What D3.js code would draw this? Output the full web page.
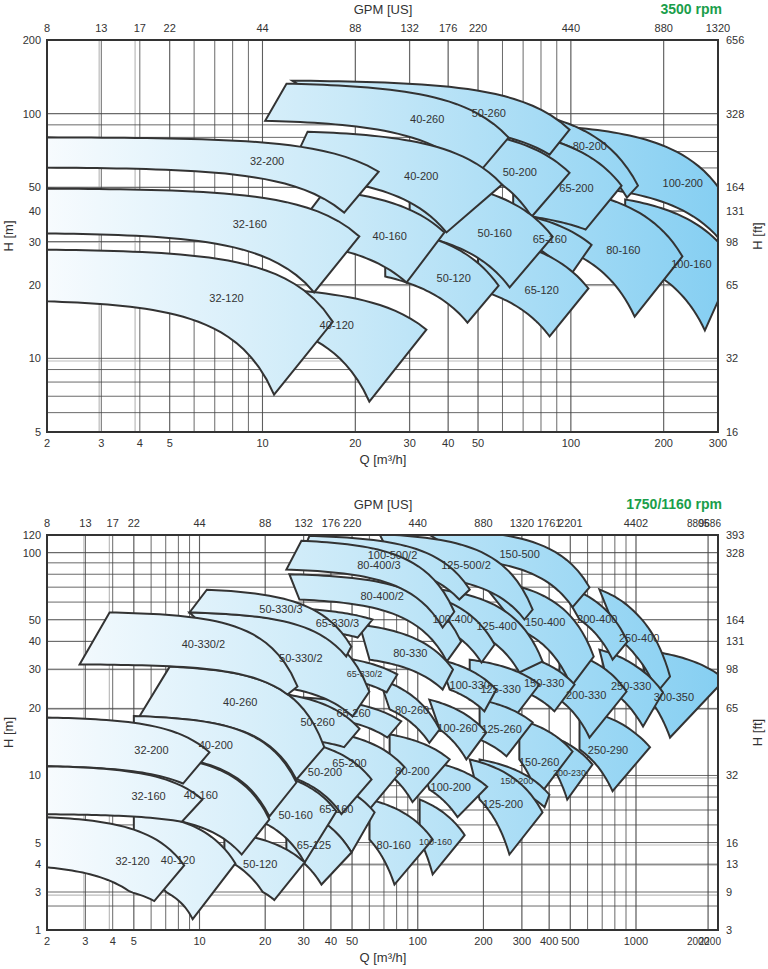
<!DOCTYPE html>
<html>
<head>
<meta charset="utf-8">
<script src="https://cdn.jsdelivr.net/npm/d3@7"></script>
<style>
  body { margin: 0; background: #fff; }
  text { font-family: "Liberation Sans", Arial, sans-serif; fill: #333; }
</style>
</head>
<body>
<svg id="chart" width="768" height="969"></svg>
<script>
// ---- 3500 rpm panel ----
var topQTicks = [2, 3, 4, 5, 10, 20, 30, 40, 50, 100, 200, 300];
var topGpmTicks = [8, 13, 17, 22, 44, 88, 132, 176, 220, 440, 880, 1320];
var topHTicks = [5, 10, 20, 30, 40, 50, 100, 200];
var topFtTicks = [16, 32, 65, 98, 131, 164, 328, 656];
// name, Q/H of top-left, top-right, bottom-left, bottom-right corners
var topPumps = [
  ["32-200", 2, 80, 23.8, 57.9, 2, 60.2, 18.4, 39.4],
  ["32-160", 2, 49.4, 20.6, 31.5, 2, 32.4, 14.7, 18.6],
  ["32-120", 2, 27.8, 16.9, 14.1, 2, 17.1, 10.9, 7.1],
  ["40-120", 6, 19.7, 34, 13.1, 6, 15.3, 22.2, 6.66],
  ["40-160", 16, 48.7, 38.9, 32.7, 12, 30.1, 29.3, 20.4],
  ["40-200", 14, 84.4, 59.8, 51.3, 12, 55.7, 39.5, 32.7],
  ["40-260", 11.96, 132.6, 62.8, 79.8, 10.2, 93.6, 49.1, 55.3],
  ["50-260", 12.5, 136.4, 99, 86, 20, 92.4, 85.3, 68],
  ["50-200", 40, 86.7, 99, 57.3, 40, 64.6, 74.6, 37.9],
  ["50-160", 30, 54.2, 87.3, 31.4, 30, 32.3, 63.3, 19.5],
  ["50-120", 25, 34.3, 58.3, 19.8, 25, 21.6, 46.2, 14.0],
  ["65-200", 65, 84.2, 146, 50.8, 65, 38.8, 111.6, 33.6],
  ["65-160", 50, 41.3, 116.7, 29.1, 50, 34.5, 99, 21.6],
  ["65-120", 50, 31.7, 114, 19.3, 50, 19.1, 85.3, 12.3],
  ["80-200", 50, 107.3, 165, 50.8, 60, 86.3, 152, 45.4],
  ["80-160", 80, 50.6, 230, 26.1, 80, 30.0, 161, 14.8],
  ["100-200", 100, 88, 330, 41.4, 100, 50.8, 330, 26.6],
  ["100-160", 150, 44.6, 340, 24.4, 150, 25.2, 272, 13.0]
];

// ---- 1750/1160 rpm panel ----
var botQTicks = [2, 3, 4, 5, 10, 20, 30, 40, 50, 100, 200, 300, 400, 500, 1000, 2000, 2200];
var botGpmTicks = [8, 13, 17, 22, 44, 88, 132, 176, 220, 440, 880, 1320, 1761, 2201, 4402, 8805, 9686];
var botHTicks = [1, 3, 4, 5, 10, 20, 30, 40, 50, 100, 120];
var botFtTicks = [3, 9, 13, 16, 32, 65, 98, 131, 164, 328, 393];
var botPumps = [
  ["32-200", 2, 18.2, 11.1, 12.7, 2, 11.0, 8.4, 9.2],
  ["32-160", 2, 11.0, 10.3, 7.8, 2, 6.7, 8.3, 6.2],
  ["32-120", 2, 6.5, 8.5, 3.95, 2, 3.87, 6.2, 2.31],
  ["40-120", 5, 6.86, 14.6, 4.03, 5, 4.05, 9.3, 1.37],
  ["40-160", 5, 12.5, 20.9, 6.35, 5, 6.65, 15.6, 4.42],
  ["40-200", 5, 18.5, 27.8, 9.3, 5, 12.6, 20.9, 6.55],
  ["40-260", 7.3, 30.8, 37.3, 13.4, 5.3, 18.4, 27.8, 9.6],
  ["40-330/2", 3.87, 53.9, 28.1, 25.1, 2.82, 31.5, 25.3, 23.1],
  ["50-330/3", 10.8, 68.2, 49.6, 37.9, 9.0, 53.9, 47.0, 34.2],
  ["50-330/2", 9.0, 53.9, 60, 23.8, 20, 25.5, 50.2, 18.4],
  ["50-260", 20, 23.8, 54.1, 16.2, 25, 14.8, 46, 13.4],
  ["50-200", 25, 14.6, 61.4, 9.6, 25, 10.0, 44.7, 6.7],
  ["50-160", 20, 10.4, 42.4, 6.9, 20, 6.1, 30.3, 4.07],
  ["50-120", 13, 5.57, 30.3, 4.07, 13, 4.24, 22.0, 2.38],
  ["65-125", 25, 7.3, 49.7, 4.51, 25, 4.6, 36.2, 3.24],
  ["65-160", 30, 9.95, 63.4, 6.83, 30, 6.85, 49.7, 4.51],
  ["65-200", 30, 16.2, 86.9, 10.9, 30, 10.3, 60, 7.04],
  ["65-260", 30, 22.4, 84.0, 17.5, 30, 18.7, 72.6, 14.8],
  ["65-330/2", 40, 34.3, 80.6, 28.4, 40, 27.9, 72.0, 23.6],
  ["65-330/3", 30, 56, 62, 50.1, 30, 45.4, 53, 41.6],
  ["80-400/3", 29.3, 113, 147, 54.3, 25.0, 84, 130, 46.1],
  ["80-400/2", 25.8, 80, 158, 39.9, 28.7, 61.6, 136, 32.5],
  ["80-330", 54.1, 47.5, 145, 29.9, 60.1, 33.1, 130, 24.3],
  ["80-260", 66.8, 27.0, 126, 16.1, 74.3, 19.8, 113, 14.0],
  ["80-200", 74.3, 15.3, 140, 11.8, 74.3, 10.1, 94.6, 7.6],
  ["80-160", 60.1, 7.8, 117, 5.16, 60.1, 5.16, 78.2, 3.24],
  ["100-500/2", 31.9, 119, 173, 68.3, 28.7, 93.1, 155, 61.6],
  ["100-400", 82.6, 68.3, 225, 38.7, 102, 50.1, 196, 32.1],
  ["100-330", 126, 33.1, 229, 24.3, 140, 24.3, 202, 19.4],
  ["100-260", 113, 21.9, 206, 15.6, 126, 16.1, 167, 11.8],
  ["100-200", 102, 11.8, 208, 8.9, 113, 8.65, 152, 6.5],
  ["100-160", 102, 7.8, 164, 5.4, 102, 5.16, 117, 3.6],
  ["125-500/2", 66.8, 121, 336, 55.5, 82.6, 80, 308, 50.1],
  ["125-400", 126, 68.3, 373, 32.5, 173, 45.2, 292, 29.0],
  ["125-330", 173, 33.1, 361, 25.6, 173, 21.9, 272, 17.8],
  ["125-260", 192, 21.9, 336, 17.3, 192, 14.5, 255, 12.2],
  ["125-200", 173, 11.8, 373, 6.83, 192, 7.8, 263, 4.42],
  ["150-500", 102, 128, 612, 69.9, 173, 93.1, 512, 56.9],
  ["150-400", 192, 75.7, 640, 34.2, 292, 45.2, 505, 25.1],
  ["150-330", 292, 34.9, 523, 25.6, 292, 24.3, 423, 19.4],
  ["150-260", 292, 17.8, 512, 12.8, 292, 11.8, 356, 8.0],
  ["150-200", 192, 11.8, 401, 8.2, 192, 9.6, 381, 7.2],
  ["200-400", 446, 71.9, 914, 39.9, 551, 50.1, 781, 33.1],
  ["200-330", 446, 36.7, 905, 23.8, 446, 21.9, 612, 14.8],
  ["200-230", 446, 14.5, 632, 11.2, 423, 10.6, 484, 7.8],
  ["250-400", 680, 68.3, 1387, 27.8, 840, 40.8, 1224, 23.6],
  ["250-330", 680, 36.7, 1296, 23.6, 756, 24.3, 1070, 16.6],
  ["250-290", 551, 19.8, 1144, 13.4, 551, 13.1, 781, 8.5],
  ["300-350", 1039, 36.7, 2352, 27.0, 1144, 21.9, 1387, 14.8]
];
var smallLabels = ["65-330/2", "200-230", "100-160", "150-200"];

var svg = d3.select("#chart");
var defs = svg.append("defs");
var grad = defs.append("linearGradient").attr("id", "fillGrad")
  .attr("gradientUnits", "userSpaceOnUse")
  .attr("x1", 47).attr("y1", 0).attr("x2", 718).attr("y2", 0);
grad.append("stop").attr("offset", 0).attr("stop-color", "#f7fbfe");
grad.append("stop").attr("offset", 0.45).attr("stop-color", "#c9e9f8");
grad.append("stop").attr("offset", 1).attr("stop-color", "#86cff2");

function multiples(lo, hi) {
  var out = [];
  for (var e = -1; e < 5; e++) {
    for (var m = 1; m < 10; m++) {
      var v = m * Math.pow(10, e);
      if (v > lo * 1.0001 && v < hi * 0.9999) out.push(v);
    }
  }
  return out;
}

function curve(q1, h1, q2, h2) {
  var b = (h1 - h2) / (q2 * q2 - q1 * q1);
  var a = h1 + b * q1 * q1;
  var pts = [];
  for (var i = 0; i <= 30; i++) {
    var q = q1 * Math.pow(q2 / q1, i / 30);
    pts.push([q, a - b * q * q]);
  }
  return { pts: pts, at: function(q) { return a - b * q * q; } };
}

function drawPanel(cfg) {
  var x = d3.scaleLog().domain(cfg.xDomain).range(cfg.xRange);
  var y = d3.scaleLog().domain(cfg.yDomain).range(cfg.yRange);
  var x0 = cfg.xRange[0], x1 = cfg.xRange[cfg.xRange.length - 1];
  var y0 = cfg.yRange[cfg.yRange.length - 1], y1 = cfg.yRange[0];
  var qMin = cfg.xDomain[0], qMax = cfg.xDomain[cfg.xDomain.length - 1];
  var hMin = cfg.yDomain[0], hMax = cfg.yDomain[cfg.yDomain.length - 1];
  var g = svg.append("g");

  defs.append("clipPath").attr("id", cfg.id)
    .append("rect").attr("x", x0).attr("y", y0).attr("width", x1 - x0).attr("height", y1 - y0);

  // grid: light lines at GPM / ft, dark lines at metric decades
  g.selectAll(".lgv").data(cfg.gpm.map(function(d) { return d / 4.403; })
      .filter(function(d) { return d > qMin && d < qMax; }))
    .enter().append("line")
    .attr("x1", function(d) { return x(d); }).attr("x2", function(d) { return x(d); })
    .attr("y1", y0).attr("y2", y1).attr("stroke", "#bbb").attr("stroke-width", 1.2);
  g.selectAll(".lgh").data(cfg.ft.map(function(d) { return d / 3.281; })
      .filter(function(d) { return d > hMin && d < hMax; }))
    .enter().append("line")
    .attr("y1", function(d) { return y(d); }).attr("y2", function(d) { return y(d); })
    .attr("x1", x0).attr("x2", x1).attr("stroke", "#bbb").attr("stroke-width", 1.2);
  g.selectAll(".dgv").data(multiples(qMin, qMax)).enter().append("line")
    .attr("x1", function(d) { return x(d); }).attr("x2", function(d) { return x(d); })
    .attr("y1", y0).attr("y2", y1).attr("stroke", "#444").attr("stroke-width", 0.8);
  g.selectAll(".dgh").data(multiples(hMin, hMax)).enter().append("line")
    .attr("y1", function(d) { return y(d); }).attr("y2", function(d) { return y(d); })
    .attr("x1", x0).attr("x2", x1).attr("stroke", "#444").attr("stroke-width", 0.8);

  // pump tiles, right-most first so the left ones lie on top
  var pumps = cfg.pumps.slice().sort(function(a, b) { return b[3] - a[3]; });
  var line = d3.line().x(function(d) { return x(d[0]); }).y(function(d) { return y(d[1]); });
  var tiles = g.append("g").attr("clip-path", "url(#" + cfg.id + ")");
  var labels = [];
  pumps.forEach(function(p) {
    var top = curve(p[1], p[2], p[3], p[4]);
    var bot = curve(p[5], p[6], p[7], p[8]);
    var pts = top.pts.concat(bot.pts.slice().reverse());
    tiles.append("path").attr("d", line(pts) + "Z")
      .attr("fill", "url(#fillGrad)").attr("stroke", "#333")
      .attr("stroke-width", 2).attr("stroke-linejoin", "miter");
    var w = p[1] <= qMin ? 0.7 : cfg.labelWeight;
    var lx = (1 - w) * (x(p[1]) + x(p[5])) / 2 + w * (x(p[3]) + x(p[7])) / 2;
    lx = Math.min(lx, x1 - 22);
    var lq = x.invert(lx);
    var ly = (y(top.at(Math.min(lq, p[3]))) + y(bot.at(Math.min(lq, p[7])))) / 2;
    labels.push({ name: p[0], x: lx, y: ly });
  });
  g.selectAll(".plabel").data(labels).enter().append("text")
    .attr("x", function(d) { return d.x; }).attr("y", function(d) { return d.y + 4; })
    .attr("text-anchor", "middle")
    .attr("font-size", function(d) { return smallLabels.indexOf(d.name) >= 0 && cfg.id === "clipB" ? 9 : 11; })
    .text(function(d) { return d.name; });

  // frame
  g.append("rect").attr("x", x0).attr("y", y0).attr("width", x1 - x0).attr("height", y1 - y0)
    .attr("fill", "none").attr("stroke", "#333").attr("stroke-width", 2);

  // tick labels; the last two on a crowded axis are pushed apart
  var n = cfg.qTicks.length;
  function tickX(i) {
    var px = x(cfg.qTicks[i]);
    if (cfg.crowded && i === n - 1) return px + 3;
    if (cfg.crowded && i === n - 2) return px - 10;
    return px;
  }
  function tickAnchor(i) {
    if (cfg.crowded && i === n - 1) return "end";
    return "middle";
  }
  g.selectAll(".qt").data(cfg.qTicks).enter().append("text")
    .attr("x", function(d, i) { return tickX(i); }).attr("y", y1 + 15)
    .attr("text-anchor", function(d, i) { return tickAnchor(i); })
    .attr("font-size", function(d, i) { return cfg.crowded && i >= n - 2 ? 10 : 11; })
    .text(function(d) { return d; });
  g.selectAll(".gt").data(cfg.gpm).enter().append("text")
    .attr("x", function(d, i) { return tickX(i); }).attr("y", y0 - 8)
    .attr("text-anchor", function(d, i) { return tickAnchor(i); })
    .attr("font-size", function(d, i) { return cfg.crowded && i >= n - 2 ? 10 : 11; })
    .text(function(d) { return d; });
  g.selectAll(".ht").data(cfg.hTicks).enter().append("text")
    .attr("x", x0 - 6).attr("y", function(d) { return y(d) + 4; })
    .attr("text-anchor", "end").attr("font-size", 11).text(function(d) { return d; });
  g.selectAll(".ft").data(cfg.ft).enter().append("text")
    .attr("x", x1 + 8).attr("y", function(d, i) { return y(cfg.hTicks[i]) + 4; })
    .attr("text-anchor", "start").attr("font-size", 11).text(function(d) { return d; });

  // axis titles
  var midY = (y0 + y1) / 2;
  g.append("text").attr("x", 383).attr("y", y1 + 32).attr("text-anchor", "middle")
    .attr("font-size", 13).text("Q [m³/h]");
  g.append("text").attr("x", 383).attr("y", y0 - 26).attr("text-anchor", "middle")
    .attr("font-size", 13).text("GPM [US]");
  g.append("text").attr("transform", "translate(13," + midY + ") rotate(-90)")
    .attr("text-anchor", "middle").attr("font-size", 13).text("H [m]");
  g.append("text").attr("transform", "translate(762," + midY + ") rotate(-90)")
    .attr("text-anchor", "middle").attr("font-size", 13).text("H [ft]");
  g.append("text").attr("x", 722).attr("y", y0 - 26).attr("text-anchor", "end")
    .attr("font-size", 14).attr("font-weight", "bold").style("fill", "#1a9e4b").text(cfg.rpm);
}

drawPanel({
  id: "clipA", pumps: topPumps, rpm: "3500 rpm", labelWeight: 0.7, crowded: false,
  xDomain: [2, 300], xRange: [47, 718],
  yDomain: [5, 200], yRange: [432, 40],
  qTicks: topQTicks, gpm: topGpmTicks, hTicks: topHTicks, ft: topFtTicks
});
drawPanel({
  id: "clipB", pumps: botPumps, rpm: "1750/1160 rpm", labelWeight: 0.55, crowded: true,
  xDomain: [2, 1000, 2200], xRange: [47, 636, 718],
  yDomain: [1, 3, 120], yRange: [930, 892, 535],
  qTicks: botQTicks, gpm: botGpmTicks, hTicks: botHTicks, ft: botFtTicks
});
</script>
</body>
</html>
